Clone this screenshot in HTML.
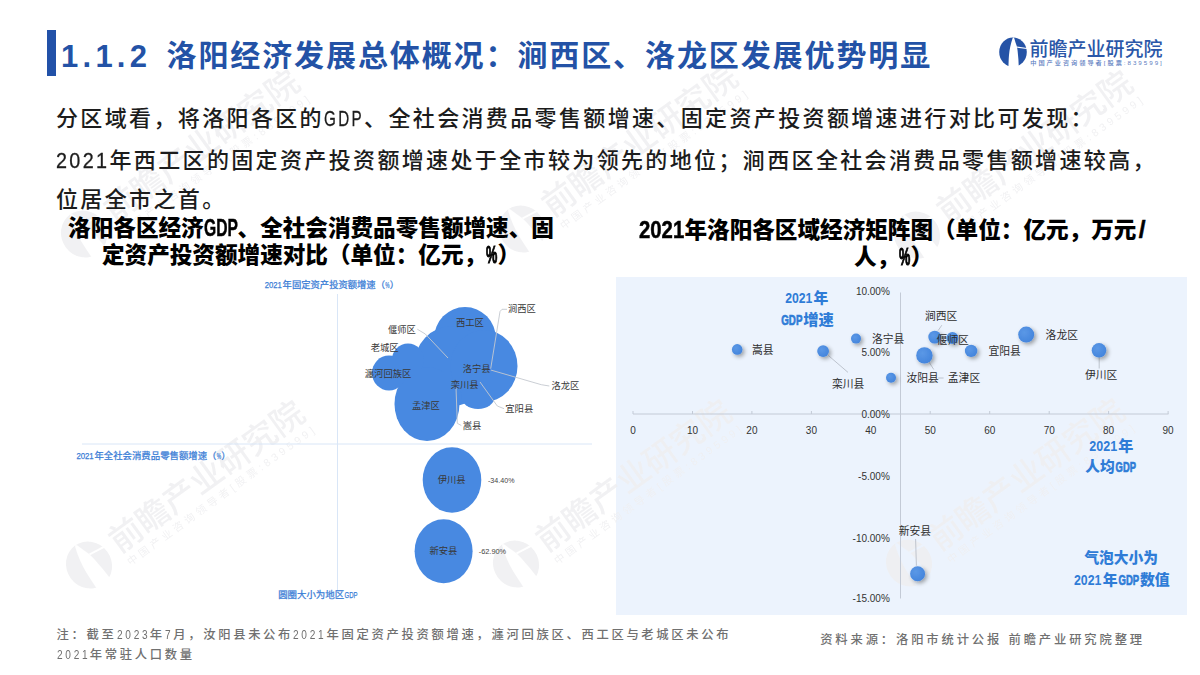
<!DOCTYPE html>
<html lang="zh-CN"><head><meta charset="utf-8"><title>1.1.2 洛阳经济发展总体概况</title>
<style>
html,body{margin:0;padding:0;background:#fff}
#s{position:relative;width:1200px;height:675px;overflow:hidden;background:#fff;font-family:"Liberation Sans","Noto Sans CJK SC",sans-serif;color:#1a1a1a}
#s *{box-sizing:border-box}
.a{position:absolute;white-space:nowrap;margin:0}
.L{display:inline-block;white-space:nowrap;letter-spacing:0;vertical-align:baseline}
.L>span{display:inline-block;transform-origin:0 50%}
#bar{left:47px;top:30px;width:9px;height:45.5px;background:#2251a8}
#tn,#tt{font-weight:700;color:#2352a6;font-size:30px;line-height:40px;top:36px}
#tn{left:61px;font-size:31px;top:37px}
#tn i{display:inline-block;width:17.2px;text-align:center;font-style:normal}
#tt{left:166.5px;letter-spacing:1.9px}
#logo{left:997.5px;top:36px;width:170px;height:34px}
.bt{left:56px;font-size:22px;letter-spacing:2.36px;line-height:40px;height:40px;color:#1c1c1c;font-weight:500}
.ct{font-size:22.6px;font-weight:900;line-height:27px;color:#000;text-align:center;letter-spacing:0}
.ct .L.pc{-webkit-text-stroke:1.1px #000}
.bt .L{-webkit-text-stroke:.3px #1c1c1c}
.ct .L{line-height:18px;font-weight:700;text-align:left;-webkit-text-stroke:.5px #000}
#lc{left:56px;top:272px;width:560px;height:340px}
#lc text{font-family:"Liberation Sans","Noto Sans CJK SC",sans-serif}
#rcbg{left:616px;top:276.5px;width:571px;height:338.2px;background:#ecf3fd}
#rc{left:616px;top:276.5px;width:571px;height:337.5px}
#rc text{font-family:"Liberation Sans","Noto Sans CJK SC",sans-serif}
.fn{font-size:12.3px;letter-spacing:2.7px;line-height:20px;color:#707070;font-weight:500}
.wm{width:300px;height:70px;transform-origin:29px 35px;opacity:.85;pointer-events:none}
</style></head><body>
<div id="s">
<div class="a" id="rcbg"></div>
<svg class="a wm" style="left:55px;top:199px;transform:rotate(-35.9deg)" viewBox="0 0 300 70"><mask id="wmk1"><rect x="0" y="0" width="32" height="34" fill="#fff"/><path d="M15.4 1.2 L14.6 2.3 L13.3 6.5 L12.25 10.7 L11.5 14.8 L11 19 L10.7 23.2 L10.4 31.5 L20.8 31.5 L20.4 23.2 L20 19 L19.6 14.8 L19 10.7 L17.5 6.5 L16.25 2.3 Z" fill="#000"/><path d="M19 10.5 L28.9 11.9 L28.9 13.1 L19.2 11.7 Z" fill="#000"/></mask><g fill="#efeff1"><g transform="translate(4.4,8.6) scale(1.64)"><ellipse cx="15" cy="16.1" rx="13.8" ry="14.6" mask="url(#wmk1)"/></g><text x="60" y="44" font-family="'Liberation Sans','Noto Sans CJK SC',sans-serif" font-size="33" font-weight="500" textLength="232" lengthAdjust="spacingAndGlyphs">前瞻产业研究院</text><text x="62" y="60" font-family="'Liberation Sans','Noto Sans CJK SC',sans-serif" font-size="10.5" textLength="228" lengthAdjust="spacing">中国产业咨询领导者[股票:839599]</text></g></svg>
<svg class="a wm" style="left:493px;top:194px;transform:rotate(-35.9deg)" viewBox="0 0 300 70"><mask id="wmk2"><rect x="0" y="0" width="32" height="34" fill="#fff"/><path d="M15.4 1.2 L14.6 2.3 L13.3 6.5 L12.25 10.7 L11.5 14.8 L11 19 L10.7 23.2 L10.4 31.5 L20.8 31.5 L20.4 23.2 L20 19 L19.6 14.8 L19 10.7 L17.5 6.5 L16.25 2.3 Z" fill="#000"/><path d="M19 10.5 L28.9 11.9 L28.9 13.1 L19.2 11.7 Z" fill="#000"/></mask><g fill="#efeff1"><g transform="translate(4.4,8.6) scale(1.64)"><ellipse cx="15" cy="16.1" rx="13.8" ry="14.6" mask="url(#wmk2)"/></g><text x="60" y="44" font-family="'Liberation Sans','Noto Sans CJK SC',sans-serif" font-size="33" font-weight="500" textLength="232" lengthAdjust="spacingAndGlyphs">前瞻产业研究院</text><text x="62" y="60" font-family="'Liberation Sans','Noto Sans CJK SC',sans-serif" font-size="10.5" textLength="228" lengthAdjust="spacing">中国产业咨询领导者[股票:839599]</text></g></svg>
<svg class="a wm" style="left:888px;top:200px;transform:rotate(-35.9deg)" viewBox="0 0 300 70"><mask id="wmk3"><rect x="0" y="0" width="32" height="34" fill="#fff"/><path d="M15.4 1.2 L14.6 2.3 L13.3 6.5 L12.25 10.7 L11.5 14.8 L11 19 L10.7 23.2 L10.4 31.5 L20.8 31.5 L20.4 23.2 L20 19 L19.6 14.8 L19 10.7 L17.5 6.5 L16.25 2.3 Z" fill="#000"/><path d="M19 10.5 L28.9 11.9 L28.9 13.1 L19.2 11.7 Z" fill="#000"/></mask><g fill="#efeff1"><g transform="translate(4.4,8.6) scale(1.64)"><ellipse cx="15" cy="16.1" rx="13.8" ry="14.6" mask="url(#wmk3)"/></g><text x="60" y="44" font-family="'Liberation Sans','Noto Sans CJK SC',sans-serif" font-size="33" font-weight="500" textLength="232" lengthAdjust="spacingAndGlyphs">前瞻产业研究院</text><text x="62" y="60" font-family="'Liberation Sans','Noto Sans CJK SC',sans-serif" font-size="10.5" textLength="228" lengthAdjust="spacing">中国产业咨询领导者[股票:839599]</text></g></svg>
<svg class="a wm" style="left:59.9px;top:530px;transform:rotate(-35.9deg)" viewBox="0 0 300 70"><mask id="wmk4"><rect x="0" y="0" width="32" height="34" fill="#fff"/><path d="M15.4 1.2 L14.6 2.3 L13.3 6.5 L12.25 10.7 L11.5 14.8 L11 19 L10.7 23.2 L10.4 31.5 L20.8 31.5 L20.4 23.2 L20 19 L19.6 14.8 L19 10.7 L17.5 6.5 L16.25 2.3 Z" fill="#000"/><path d="M19 10.5 L28.9 11.9 L28.9 13.1 L19.2 11.7 Z" fill="#000"/></mask><g fill="#efeff1"><g transform="translate(4.4,8.6) scale(1.64)"><ellipse cx="15" cy="16.1" rx="13.8" ry="14.6" mask="url(#wmk4)"/></g><text x="60" y="44" font-family="'Liberation Sans','Noto Sans CJK SC',sans-serif" font-size="33" font-weight="500" textLength="232" lengthAdjust="spacingAndGlyphs">前瞻产业研究院</text><text x="62" y="60" font-family="'Liberation Sans','Noto Sans CJK SC',sans-serif" font-size="10.5" textLength="228" lengthAdjust="spacing">中国产业咨询领导者[股票:839599]</text></g></svg>
<svg class="a wm" style="left:486.6px;top:529px;transform:rotate(-35.9deg)" viewBox="0 0 300 70"><mask id="wmk5"><rect x="0" y="0" width="32" height="34" fill="#fff"/><path d="M15.4 1.2 L14.6 2.3 L13.3 6.5 L12.25 10.7 L11.5 14.8 L11 19 L10.7 23.2 L10.4 31.5 L20.8 31.5 L20.4 23.2 L20 19 L19.6 14.8 L19 10.7 L17.5 6.5 L16.25 2.3 Z" fill="#000"/><path d="M19 10.5 L28.9 11.9 L28.9 13.1 L19.2 11.7 Z" fill="#000"/></mask><g fill="#efeff1"><g transform="translate(4.4,8.6) scale(1.64)"><ellipse cx="15" cy="16.1" rx="13.8" ry="14.6" mask="url(#wmk5)"/></g><text x="60" y="44" font-family="'Liberation Sans','Noto Sans CJK SC',sans-serif" font-size="33" font-weight="500" textLength="232" lengthAdjust="spacingAndGlyphs">前瞻产业研究院</text><text x="62" y="60" font-family="'Liberation Sans','Noto Sans CJK SC',sans-serif" font-size="10.5" textLength="228" lengthAdjust="spacing">中国产业咨询领导者[股票:839599]</text></g></svg>
<svg class="a wm" style="left:880px;top:528px;transform:rotate(-35.9deg)" viewBox="0 0 300 70"><mask id="wmk6"><rect x="0" y="0" width="32" height="34" fill="#fff"/><path d="M15.4 1.2 L14.6 2.3 L13.3 6.5 L12.25 10.7 L11.5 14.8 L11 19 L10.7 23.2 L10.4 31.5 L20.8 31.5 L20.4 23.2 L20 19 L19.6 14.8 L19 10.7 L17.5 6.5 L16.25 2.3 Z" fill="#000"/><path d="M19 10.5 L28.9 11.9 L28.9 13.1 L19.2 11.7 Z" fill="#000"/></mask><g fill="#efeff1"><g transform="translate(4.4,8.6) scale(1.64)"><ellipse cx="15" cy="16.1" rx="13.8" ry="14.6" mask="url(#wmk6)"/></g><text x="60" y="44" font-family="'Liberation Sans','Noto Sans CJK SC',sans-serif" font-size="33" font-weight="500" textLength="232" lengthAdjust="spacingAndGlyphs">前瞻产业研究院</text><text x="62" y="60" font-family="'Liberation Sans','Noto Sans CJK SC',sans-serif" font-size="10.5" textLength="228" lengthAdjust="spacing">中国产业咨询领导者[股票:839599]</text></g></svg>
<div class="a" id="bar"></div>
<div class="a" id="tn"><i>1</i><i>.</i><i>1</i><i>.</i><i>2</i></div>
<div class="a" id="tt">洛阳经济发展总体概况：涧西区、洛龙区发展优势明显</div>
<svg class="a" id="logo" viewBox="0 0 170 34">
<ellipse cx="15" cy="16.1" rx="13.8" ry="14.6" fill="#2553a6"/>
<path d="M15.4 1.2 L14.6 2.3 L13.3 6.5 L12.25 10.7 L11.5 14.8 L11 19 L10.7 23.2 L10.4 31.5 L20.8 31.5 L20.4 23.2 L20 19 L19.6 14.8 L19 10.7 L17.5 6.5 L16.25 2.3 Z" fill="#fff"/>
<path d="M19 10.5 L28.9 11.9 L28.9 13.1 L19.2 11.7 Z" fill="#fff"/>
<text x="31.4" y="19.7" font-family="'Liberation Sans','Noto Sans CJK SC',sans-serif" font-size="19.6" font-weight="500" fill="#2b57a8" textLength="133" lengthAdjust="spacingAndGlyphs">前瞻产业研究院</text>
<text x="32.3" y="28.7" font-family="'Liberation Sans','Noto Sans CJK SC',sans-serif" font-size="6.2" font-weight="500" fill="#5a7cc0" textLength="131.5" lengthAdjust="spacing">中国产业咨询领导者[股票:839599]</text>
</svg>
<p class="a bt" style="top:99px">分区域看，将洛阳各区的<span class="L" style="width:40.08px"><span style="transform:scaleX(0.692);letter-spacing:3.41px">GDP</span></span>、全社会消费品零售额增速、固定资产投资额增速进行对比可发现：</p>
<p class="a bt" style="top:140.5px"><span class="L" style="width:53.44px"><span style="transform:scaleX(0.899);letter-spacing:2.63px">2021</span></span>年西工区的固定资产投资额增速处于全市较为领先的地位；涧西区全社会消费品零售额增速较高，</p>
<p class="a bt" style="top:180px">位居全市之首。</p>
<div class="a ct" style="left:68px;top:214.6px;width:486px">洛阳各区经济<span class="L" style="font-size:24.41px;width:33.90px"><span style="transform:scaleX(0.641);letter-spacing:0.00px">GDP</span></span>、全社会消费品零售额增速、固<br>定资产投资额增速对比（单位：亿元，<span class="L pc" style="font-size:24.41px;width:11.30px"><span style="transform:scaleX(0.521);letter-spacing:0.00px">%</span></span>）</div>
<svg class="a" id="lc" viewBox="0 0 560 340">
<g stroke="#dfe9f6" stroke-width="1" fill="none">
<path d="M281.5 22.0 V319.0" stroke="#d9e6f7"/>
<path d="M26.0 172.0 H536.0" stroke="#d9e6f7"/>
</g>
<g fill="#4889e1">
<ellipse cx="409.0" cy="67.0" rx="31.0" ry="32.0"/>
<ellipse cx="396.0" cy="94.0" rx="38.0" ry="40.0"/>
<ellipse cx="428.0" cy="94.0" rx="33.5" ry="36.0"/>
<ellipse cx="422.0" cy="124.0" rx="17.0" ry="13.0"/>
<ellipse cx="371.0" cy="132.0" rx="32.5" ry="37.0"/>
<ellipse cx="352.0" cy="88.0" rx="16.0" ry="16.5"/>
<ellipse cx="333.0" cy="101.0" rx="17.0" ry="17.5"/>
<ellipse cx="396.0" cy="208.0" rx="29.3" ry="32.7"/>
<ellipse cx="387.6" cy="279.3" rx="29.0" ry="32.0"/>
</g>
<g stroke="#c4c8cf" stroke-width="0.9" fill="none">
<polyline points="451.0,37.3 446.0,37.3 444.0,39.5 434.7,96.7"/>
<polyline points="361.3,57.2 369.3,62.0 392.0,86.0"/>
<polyline points="493.3,114.0 485.3,112.7 434.7,98.0"/>
<polyline points="448.0,136.7 441.3,134.0 424.0,110.0"/>
<polyline points="405.3,153.5 401.3,151.3 400.0,115.3"/>
</g>
<g font-size="9.3" fill="#383838">
<text x="452.0" y="40.1">涧西区</text>
<text x="400.0" y="54.3">西工区</text>
<text x="332.0" y="61.3">偃师区</text>
<text x="314.7" y="79.4">老城区</text>
<text x="308.8" y="105.0">瀍河回族区</text>
<text x="406.7" y="100.2">洛宁县</text>
<text x="394.7" y="116.0">栾川县</text>
<text x="356.0" y="136.8">孟津区</text>
<text x="495.5" y="117.3">洛龙区</text>
<text x="449.3" y="140.0">宜阳县</text>
<text x="406.7" y="156.8">嵩县</text>
<text x="381.7" y="211.3">伊川县</text>
<text x="373.5" y="282.3">新安县</text>
</g>
<g font-size="7" fill="#444">
<text x="432.0" y="210.5" textLength="26.5" lengthAdjust="spacingAndGlyphs">-34.40%</text>
<text x="422.7" y="281.5" textLength="27.5" lengthAdjust="spacingAndGlyphs">-62.90%</text>
</g>
<g font-size="9" fill="#3a7dd6" stroke="#3a7dd6" stroke-width=".25">
<text x="208.7" y="15.9" textLength="17.1" lengthAdjust="spacingAndGlyphs">2021</text><text x="226.6" y="15.9" textLength="102.4" lengthAdjust="spacingAndGlyphs">年固定资产投资额增速（</text><text x="329.2" y="15.9" textLength="4.3" lengthAdjust="spacingAndGlyphs">%</text><text x="333.7" y="15.9" textLength="9.3" lengthAdjust="spacingAndGlyphs">）</text>
<text x="20.4" y="186.9" textLength="17.3" lengthAdjust="spacingAndGlyphs">2021</text><text x="38.4" y="186.9" textLength="122.1" lengthAdjust="spacingAndGlyphs">年全社会消费品零售额增速（</text><text x="160.7" y="186.9" textLength="4.3" lengthAdjust="spacingAndGlyphs">%</text><text x="165.2" y="186.9" textLength="9.4" lengthAdjust="spacingAndGlyphs">）</text>
<text x="222.2" y="325.6" textLength="65.9" lengthAdjust="spacingAndGlyphs">圆圈大小为地区</text><text x="288.6" y="325.6" textLength="13.0" lengthAdjust="spacingAndGlyphs">GDP</text>
</g>
</svg>
<div class="a ct" style="left:639px;top:216.5px;width:509px"><span class="L" style="font-size:24.41px;width:45.20px"><span style="transform:scaleX(0.832);letter-spacing:0.00px">2021</span></span>年洛阳各区域经济矩阵图（单位：亿元，万元<span class="L" style="font-size:24.41px;width:11.30px;padding-left:2.26px">/</span><br>人，<span class="L pc" style="font-size:24.41px;width:11.30px"><span style="transform:scaleX(0.521);letter-spacing:0.00px">%</span></span>）</div>
<svg class="a" id="rc" viewBox="0 0 571 337.5">
<defs><filter id="ds" x="-60%" y="-60%" width="240%" height="240%"><feGaussianBlur in="SourceAlpha" stdDeviation="1.9"/><feOffset dx="1.8" dy="2.2"/><feComponentTransfer><feFuncA type="linear" slope="0.36"/></feComponentTransfer><feMerge><feMergeNode/><feMergeNode in="SourceGraphic"/></feMerge></filter><radialGradient id="bg" cx="38%" cy="36%" r="70%"><stop offset="0" stop-color="#5b98e6"/><stop offset="1" stop-color="#4384dc"/></radialGradient></defs>
<g stroke="#c3cad6" stroke-width="1" fill="none">
<path d="M284.5 15.5 V321.5"/>
<path d="M17.0 137.0 H552.5"/>
<path d="M17.0 134.0 V137.0"/>
<path d="M76.5 134.0 V137.0"/>
<path d="M135.9 134.0 V137.0"/>
<path d="M195.4 134.0 V137.0"/>
<path d="M254.8 134.0 V137.0"/>
<path d="M314.2 134.0 V137.0"/>
<path d="M373.7 134.0 V137.0"/>
<path d="M433.2 134.0 V137.0"/>
<path d="M492.6 134.0 V137.0"/>
<path d="M552.1 134.0 V137.0"/>
</g>
<g font-size="10" fill="#333" text-anchor="middle">
<text x="17.0" y="157.1">0</text>
<text x="76.5" y="157.1">10</text>
<text x="135.9" y="157.1">20</text>
<text x="195.4" y="157.1">30</text>
<text x="254.8" y="157.1">40</text>
<text x="314.2" y="157.1">50</text>
<text x="373.7" y="157.1">60</text>
<text x="433.2" y="157.1">70</text>
<text x="492.6" y="157.1">80</text>
<text x="552.1" y="157.1">90</text>
</g>
<g font-size="10" fill="#333" text-anchor="end">
<text x="273.8" y="18.1">10.00%</text>
<text x="273.8" y="79.1">5.00%</text>
<text x="273.8" y="141.1">0.00%</text>
<text x="273.8" y="202.6">-5.00%</text>
<text x="273.8" y="264.6">-10.00%</text>
<text x="273.8" y="325.1">-15.00%</text>
</g>
<g stroke="#b9bec8" stroke-width="0.9" fill="none">
<polyline points="212.4,78.5 232.0,95.4"/>
<polyline points="325.8,48.2 322.2,53.5"/>
<polyline points="313.3,85.5 317.8,92.5"/>
<polyline points="322.2,101.0 327.6,101.0"/>
<polyline points="299.6,262.0 300.4,288.7"/>
<polyline points="483.2,75.5 483.2,91.5"/>
</g>
<g fill="url(#bg)" filter="url(#ds)">
<circle cx="121.2" cy="72.4" r="5.3"/>
<circle cx="207.1" cy="74.1" r="5.9"/>
<circle cx="240.0" cy="61.6" r="5.0"/>
<circle cx="275.0" cy="100.7" r="5.0"/>
<circle cx="308.4" cy="78.4" r="8.2"/>
<circle cx="318.7" cy="60.1" r="6.4"/>
<circle cx="336.4" cy="61.1" r="6.0"/>
<circle cx="355.1" cy="73.9" r="6.2"/>
<circle cx="410.2" cy="57.6" r="8.0"/>
<circle cx="483.0" cy="73.3" r="7.3"/>
<circle cx="301.6" cy="296.8" r="7.5"/>
</g>
<g font-size="11" fill="#2e2e2e">
<text x="136.0" y="77.0" textLength="21.6" lengthAdjust="spacingAndGlyphs">嵩县</text>
<text x="216.0" y="110.5" textLength="32.4" lengthAdjust="spacingAndGlyphs">栾川县</text>
<text x="256.0" y="65.6" textLength="32.4" lengthAdjust="spacingAndGlyphs">洛宁县</text>
<text x="290.4" y="105.1" textLength="32.4" lengthAdjust="spacingAndGlyphs">汝阳县</text>
<text x="331.8" y="105.1" textLength="32.4" lengthAdjust="spacingAndGlyphs">孟津区</text>
<text x="309.0" y="42.5" textLength="32.4" lengthAdjust="spacingAndGlyphs">涧西区</text>
<text x="320.4" y="67.3" textLength="32.4" lengthAdjust="spacingAndGlyphs">偃师区</text>
<text x="372.4" y="78.0" textLength="32.4" lengthAdjust="spacingAndGlyphs">宜阳县</text>
<text x="429.6" y="62.1" textLength="32.4" lengthAdjust="spacingAndGlyphs">洛龙区</text>
<text x="468.9" y="102.0" textLength="32.4" lengthAdjust="spacingAndGlyphs">伊川区</text>
<text x="282.7" y="257.8" textLength="32.4" lengthAdjust="spacingAndGlyphs">新安县</text>
</g>
<g font-size="14.67" font-weight="900" fill="#2f7cd7">
<text x="169.2" y="26.3" textLength="27.2" lengthAdjust="spacingAndGlyphs">2021</text><text x="197.6" y="26.3" textLength="14.8" lengthAdjust="spacingAndGlyphs">年</text>
<text x="165.3" y="48.1" textLength="21.1" lengthAdjust="spacingAndGlyphs" stroke="#2f7cd7" stroke-width=".7">GDP</text><text x="187.3" y="48.1" textLength="30.5" lengthAdjust="spacingAndGlyphs">增速</text>
<text x="473.3" y="174.0" textLength="27.8" lengthAdjust="spacingAndGlyphs">2021</text><text x="502.3" y="174.0" textLength="15.1" lengthAdjust="spacingAndGlyphs">年</text>
<text x="469.2" y="195.1" textLength="29.4" lengthAdjust="spacingAndGlyphs">人均</text><text x="499.6" y="195.1" textLength="20.3" lengthAdjust="spacingAndGlyphs" stroke="#2f7cd7" stroke-width=".7">GDP</text>
<text x="468.4" y="285.5" textLength="73.6" lengthAdjust="spacingAndGlyphs">气泡大小为</text>
<text x="458.0" y="307.8" textLength="27.4" lengthAdjust="spacingAndGlyphs">2021</text><text x="486.7" y="307.8" textLength="14.9" lengthAdjust="spacingAndGlyphs">年</text><text x="502.5" y="307.8" textLength="20.6" lengthAdjust="spacingAndGlyphs" stroke="#2f7cd7" stroke-width=".7">GDP</text><text x="523.9" y="307.8" textLength="29.8" lengthAdjust="spacingAndGlyphs">数值</text>
</g>
</svg>
<div class="a fn" style="left:56.5px;top:624.5px">注：截至<span class="L" style="font-size:12.79px;width:33.32px"><span style="transform:scaleX(0.791);letter-spacing:3.41px">2023</span></span>年<span class="L" style="font-size:12.79px;width:8.33px"><span style="transform:scaleX(0.791);letter-spacing:3.41px">7</span></span>月，汝阳县未公布<span class="L" style="font-size:12.79px;width:33.32px"><span style="transform:scaleX(0.791);letter-spacing:3.41px">2021</span></span>年固定资产投资额增速，瀍河回族区、西工区与老城区未公布<br><span class="L" style="font-size:12.79px;width:33.32px"><span style="transform:scaleX(0.791);letter-spacing:3.41px">2021</span></span>年常驻人口数量</div>
<div class="a fn" style="left:820.2px;top:630px;letter-spacing:2.87px">资料来源：洛阳市统计公报 前瞻产业研究院整理</div>
</div>
</body></html>
